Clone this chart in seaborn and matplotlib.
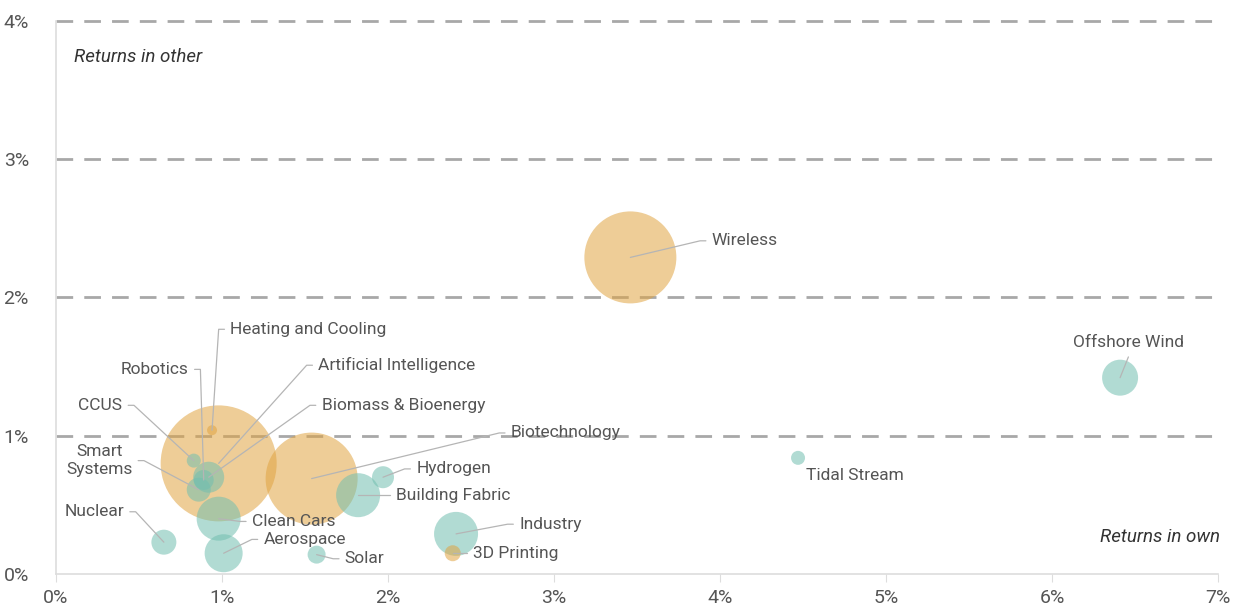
import matplotlib
matplotlib.use("Agg")
import matplotlib.pyplot as plt
import seaborn as sns
import pandas as pd

# values (percent)
names = ["Artificial Intelligence", "Wireless", "Biotechnology", "Clean Cars", "Building Fabric",
         "Industry", "Aerospace", "Offshore Wind", "Biomass & Bioenergy", "Nuclear",
         "Smart\nSystems", "Hydrogen", "Robotics", "Solar", "3D Printing", "CCUS",
         "Tidal Stream", "Heating and Cooling"]
returns_own = [0.98, 3.46, 1.54, 0.98, 1.82, 2.41, 1.01, 6.41, 0.92, 0.65,
               0.86, 1.97, 0.89, 1.57, 2.39, 0.83, 4.47, 0.94]
returns_other = [0.80, 2.29, 0.69, 0.40, 0.57, 0.29, 0.15, 1.42, 0.70, 0.23,
                 0.61, 0.70, 0.68, 0.14, 0.15, 0.82, 0.84, 1.04]
bubble = [3364, 2116, 2116, 484, 484, 484, 361, 324, 240, 156,
          144, 121, 100, 81, 64, 49, 49, 25]
group = ["orange", "orange", "orange", "teal", "teal", "teal", "teal", "teal", "teal", "teal",
         "teal", "teal", "teal", "teal", "orange", "teal", "teal", "orange"]

df = pd.DataFrame({"name": names, "own": returns_own, "other": returns_other,
                   "bubble": bubble, "group": group})

# label placement: (text x, text y, alignment) in data units
label_pos = {
    "Artificial Intelligence": (1.58, 1.51, "left"),
    "Wireless": (3.95, 2.41, "left"),
    "Biotechnology": (2.74, 1.02, "left"),
    "Clean Cars": (1.18, 0.38, "left"),
    "Building Fabric": (2.05, 0.57, "left"),
    "Industry": (2.79, 0.36, "left"),
    "Aerospace": (1.25, 0.25, "left"),
    "Offshore Wind": (6.46, 1.62, "center"),
    "Biomass & Bioenergy": (1.60, 1.22, "left"),
    "Nuclear": (0.41, 0.45, "right"),
    "Smart\nSystems": (0.46, 0.82, "right"),
    "Hydrogen": (2.17, 0.76, "left"),
    "Robotics": (0.80, 1.48, "right"),
    "Solar": (1.74, 0.11, "left"),
    "3D Printing": (2.51, 0.15, "left"),
    "CCUS": (0.40, 1.22, "right"),
    "Tidal Stream": (4.52, 0.71, "left"),
    "Heating and Cooling": (1.05, 1.77, "left"),
}

sns.set_style("white")
plt.rcParams["font.family"] = ["Roboto", "DejaVu Sans"]

fig = plt.figure(figsize=(12.41, 6.11), dpi=100)
ax = fig.add_axes([0.0451, 0.0606, 0.9364, 0.905])

palette = {"orange": "#e0a442", "teal": "#72bfb0"}
max_b = max(bubble)
sns.scatterplot(data=df, x="own", y="other", hue="group", palette=palette,
                size="bubble", sizes=(0, max_b * 2.0736), size_norm=(0, max_b),
                alpha=0.55, edgecolor="none", linewidth=0, legend=False, ax=ax, zorder=3)

ax.set_xlim(0, 7)
ax.set_ylim(0, 4)
ax.set_xticks(range(0, 8))
ax.set_yticks(range(0, 5))
ax.set_xticklabels([f"{i}%" for i in range(0, 8)])
ax.set_yticklabels([f"{i}%" for i in range(0, 5)])
ax.set_xlabel("")
ax.set_ylabel("")

for y in [1, 2, 3, 4]:
    ax.axhline(y, color="#a8a8a8", lw=2, dashes=(6, 4), zorder=1, clip_on=False)

for s in ["top", "right"]:
    ax.spines[s].set_visible(False)
for s in ["left", "bottom"]:
    ax.spines[s].set_color("#dddddd")
    ax.spines[s].set_linewidth(1.2)

ax.tick_params(axis="x", bottom=True, length=6, color="#dddddd", labelsize=14,
               labelcolor="#555555", pad=5)
ax.tick_params(axis="y", left=False, labelsize=14, labelcolor="#555555", pad=16)

# leader lines and labels
dx_gap = 0.035
for n, x, y in zip(names, returns_own, returns_other):
    tx, ty, ha = label_pos[n]
    if n == "Tidal Stream":
        pass
    elif ha == "center":
        ax.plot([x, tx], [y, ty - 0.05], color="#b5b5b5", lw=0.9, zorder=4)
    elif ha == "left":
        ax.plot([x, tx - 2 * dx_gap, tx - dx_gap], [y, ty, ty], color="#b5b5b5", lw=0.9, zorder=4)
    else:
        ax.plot([x, tx + 2 * dx_gap, tx + dx_gap], [y, ty, ty], color="#b5b5b5", lw=0.9, zorder=4)
    ax.text(tx, ty, n, ha=ha,
            va="center" if ha != "center" else "bottom",
            fontsize=12.5, color="#555555", zorder=5,
            multialignment="center", linespacing=1.3)

ax.text(0.11, 3.74, "Returns in other", fontsize=13.5, style="italic", color="#333333",
        va="center")
ax.text(7.01, 0.27, "Returns in own", fontsize=13.5, style="italic", color="#333333",
        ha="right", va="center")

fig.savefig("out.png", dpi=100)
